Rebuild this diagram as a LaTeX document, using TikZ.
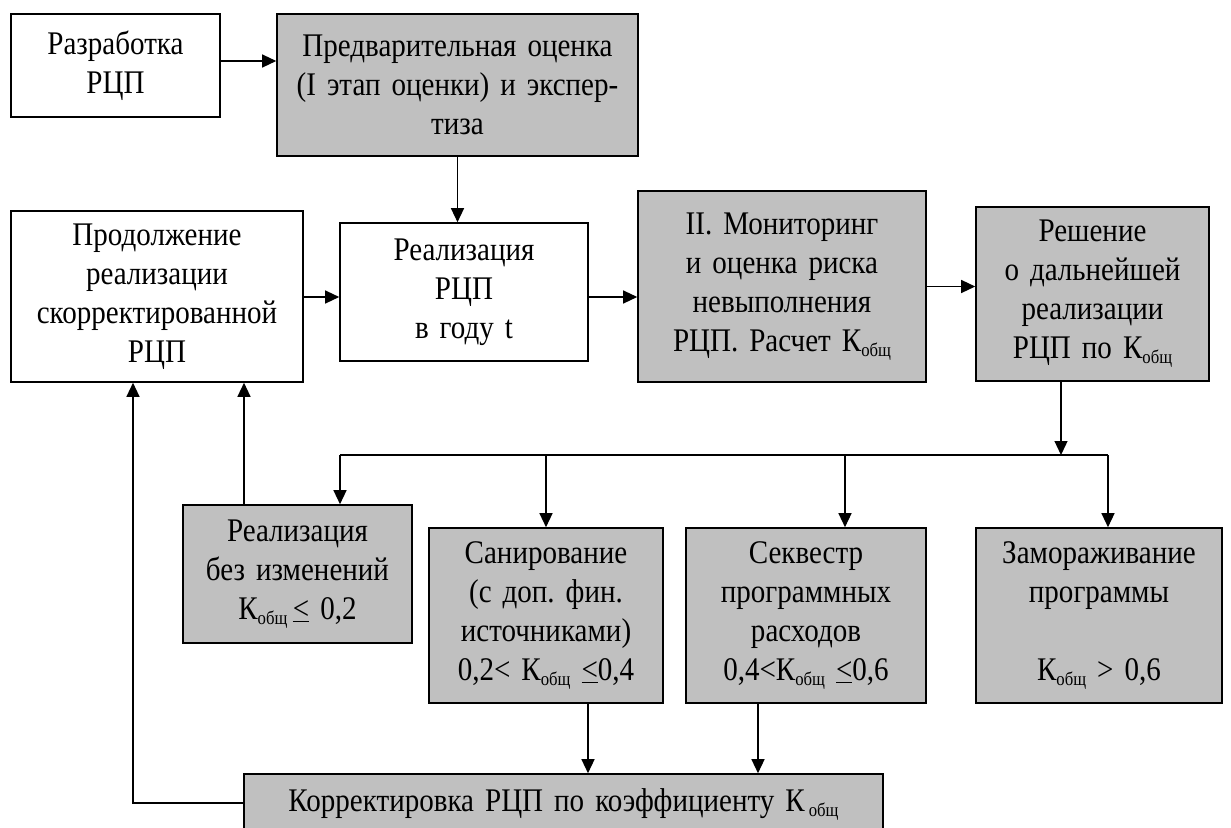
\documentclass[tikz,border=0pt]{standalone}
\usepackage{fontspec}
\setmainfont{Liberation Serif}[FakeStretch=0.88]
\usetikzlibrary{arrows.meta}
\definecolor{boxgray}{HTML}{C0C0C0}
\newcommand{\sbo}{\raisebox{-5pt}{\fontsize{19}{19}\selectfont общ}}
\newcommand{\Kob}{К\sbo}
\begin{document}
\begin{tikzpicture}[x=1pt,y=-1pt,
  boxw/.style={draw, line width=1.6pt, fill=white, inner sep=0pt, align=center,
    font=\fontsize{33}{39}\selectfont\frenchspacing},
  boxg/.style={boxw, fill=boxgray},
  conn/.style={line width=1.3pt},
  arr/.style={conn, -{Triangle[length=14pt,width=13pt]}}]
\useasboundingbox (0,0) rectangle (1231,827);
\begin{scope}
\clip (0,0) rectangle (1231,827);
\node[boxw, minimum width=209pt, minimum height=103pt, text width=200pt] (b1) at (115.5,65.5) {Разработка\\РЦП};
\node[boxg, minimum width=361pt, minimum height=142pt, text width=352pt] (b2) at (457.5,85) {Предварительная оценка\\(I этап оценки) и экспер-\\тиза};
\node[boxw, minimum width=248pt, minimum height=138pt, text width=240pt] (b3) at (464,292) {Реализация\\РЦП\\в году t};
\node[boxw, minimum width=292pt, minimum height=171pt, text width=284pt] (b4) at (157,296.5) {Продолжение\\реализации\\скорректированной\\РЦП};
\node[boxg, minimum width=288pt, minimum height=191pt, text width=280pt] (b5) at (782,286.5) {II. Мониторинг\\и оценка риска\\невыполнения\\РЦП. Расчет \Kob};
\node[boxg, minimum width=233pt, minimum height=174pt, text width=226pt] (b6) at (1092.5,294) {Решение\\о дальнейшей\\реализации\\РЦП по \Kob};
\node[boxg, minimum width=229pt, minimum height=138pt, text width=222pt] (b7) at (297.5,574) {Реализация\\без изменений\\\Kob\,\underline{<} 0,2};
\node[boxg, minimum width=234pt, minimum height=175pt, text width=228pt] (b8) at (546,615.5) {Санирование\\(с доп. фин.\\источниками)\\0,2< \Kob{} \underline{<}0,4};
\node[boxg, minimum width=240pt, minimum height=175pt, text width=232pt] (b9) at (806,615.5) {Секвестр\\программных\\расходов\\0,4<\Kob{} \underline{<}0,6};
\node[boxg, minimum width=246pt, minimum height=175pt, text width=238pt] (b10) at (1099,615.5) {Замораживание\\программы\\[39pt]\Kob{} > 0,6};
\node[boxg, minimum width=639pt, minimum height=62pt, text width=630pt] (b11) at (563.5,805) {Корректировка РЦП по коэффициенту К\kern4pt\sbo};
\end{scope}
\coordinate (y61) at (0,61);
\coordinate (y297) at (0,297);
\coordinate (j) at (1061,455);
\coordinate (hl) at (340,455);
\coordinate (hr) at (1108,455);
\coordinate (d9) at (845,455);
\coordinate (x244) at (244,0);
\coordinate (x588) at (588,0);
\coordinate (x758) at (758,0);
\coordinate (loopc) at (133,803);
\draw[arr] (b1.east |- y61) -- (b2.west |- y61);
\draw[arr] (b2.south) -- (b2.south |- b3.north);
\draw[arr] (b4.east |- y297) -- (b3.west |- y297);
\draw[arr] (b3.east |- y297) -- (b5.west |- y297);
\draw[arr] (b5.east) -- (b6.west |- b5.east);
\draw[arr] (b6.south -| j) -- (j);
\draw[conn] (hl) -- (hr);
\draw[arr] (hl) -- (hl |- b7.north);
\draw[arr] (b8.north |- hl) -- (b8.north);
\draw[arr] (d9) -- (d9 |- b9.north);
\draw[arr] (hr) -- (hr |- b10.north);
\draw[arr] (b7.north -| x244) -- (b4.south -| x244);
\draw[arr] (b8.south -| x588) -- (b11.north -| x588);
\draw[arr] (b9.south -| x758) -- (b11.north -| x758);
\draw[arr] (b11.west |- loopc) -- (loopc) -- (b4.south -| loopc);
\end{tikzpicture}
\end{document}
